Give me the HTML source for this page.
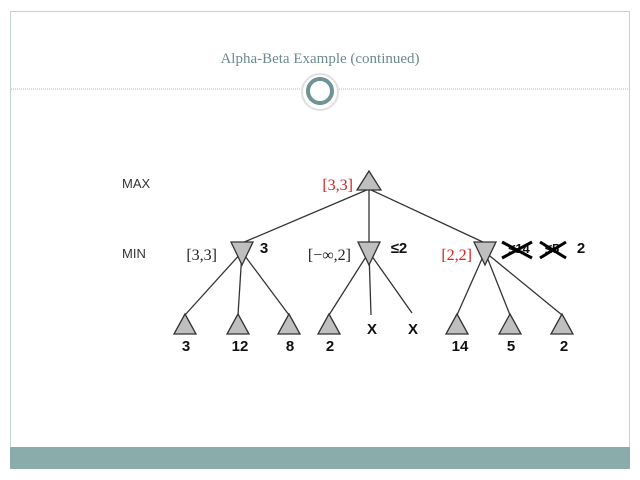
<!DOCTYPE html><html><head><style>body{margin:0;background:#fff}</style></head><body>
<svg width="640" height="480" xmlns="http://www.w3.org/2000/svg" style="display:block">
<rect x="10.5" y="11.5" width="619" height="457" fill="#fff" stroke="#c4d2d1"/>
<rect x="10" y="447" width="620" height="22" fill="#8aacab"/>
<line x1="11" y1="89" x2="629" y2="89" stroke="#a8b8b8" stroke-dasharray="1,1"/>
<text x="320" y="63" text-anchor="middle" font-family="Liberation Serif,serif" font-size="15" fill="#6e8a8a">Alpha-Beta Example (continued)</text>
<circle cx="320" cy="92" r="18" fill="#fff" stroke="#e0e0e0" stroke-width="2"/>
<circle cx="320" cy="91" r="12" fill="none" stroke="#6c9494" stroke-width="4"/>
<g font-family="Liberation Sans,sans-serif" font-size="13" fill="#333">
<text x="122" y="188">MAX</text><text x="122" y="258">MIN</text></g>
<g stroke="#333" stroke-width="1.3">
<line x1="369" y1="189" x2="242" y2="243"/><line x1="369" y1="189" x2="369" y2="243"/><line x1="369" y1="189" x2="485" y2="243"/>
<line x1="242" y1="252" x2="185" y2="315"/><line x1="242" y1="252" x2="238" y2="315"/><line x1="242" y1="252" x2="289" y2="315"/>
<line x1="369" y1="252" x2="329" y2="315"/><line x1="369" y1="252" x2="371" y2="315"/><line x1="369" y1="252" x2="412" y2="313"/>
<line x1="485" y1="252" x2="457" y2="315"/><line x1="485" y1="252" x2="510" y2="315"/><line x1="485" y1="252" x2="562" y2="315"/>
</g>
<g fill="#bfbfbf" stroke="#333" stroke-width="1.3">
<polygon points="369,171 357,190 381,190"/>
<polygon points="231,242 253,242 242,265"/><polygon points="358,242 380,242 369,265"/><polygon points="474,242 496,242 485,265"/>
<polygon points="185,314 174,334 196,334"/><polygon points="238,314 227,334 249,334"/><polygon points="289,314 278,334 300,334"/><polygon points="329,314 318,334 340,334"/>
<polygon points="457,314 446,334 468,334"/><polygon points="510,314 499,334 521,334"/><polygon points="562,314 551,334 573,334"/>
</g>
<g font-family="Liberation Sans,sans-serif" font-size="15" font-weight="bold" fill="#111" text-anchor="middle">
<text x="186" y="351">3</text><text x="240" y="351">12</text><text x="290" y="351">8</text><text x="330" y="351">2</text>
<text x="460" y="351">14</text><text x="511" y="351">5</text><text x="564" y="351">2</text>
<text x="372" y="334">X</text><text x="413" y="334">X</text>
<text x="264" y="253">3</text><text x="399" y="253">≤2</text><text x="581" y="253">2</text>
<text x="519" y="253" font-size="13">≤14</text><text x="552" y="253" font-size="13">≤5</text>
</g>
<g stroke="#000" stroke-width="3"><line x1="502" y1="242" x2="532" y2="258"/><line x1="502" y1="258" x2="532" y2="242"/><line x1="540" y1="242" x2="566" y2="258"/><line x1="540" y1="258" x2="566" y2="242"/></g>
<g font-family="Liberation Serif,serif" font-size="16">
<text x="353" y="190" text-anchor="end" fill="#d62020">[3,3]</text>
<text x="217" y="260" text-anchor="end" fill="#222">[3,3]</text>
<text x="351" y="260" text-anchor="end" fill="#222">[−∞,2]</text>
<text x="472" y="260" text-anchor="end" fill="#d62020">[2,2]</text>
</g>
</svg></body></html>
